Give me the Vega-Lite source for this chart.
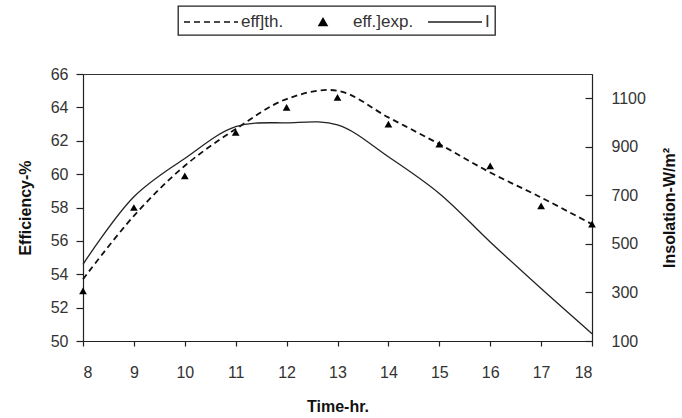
{
  "$schema": "https://vega.github.io/schema/vega-lite/v6.json",
  "width": 509,
  "height": 267,
  "autosize": "none",
  "padding": {"left": 83, "top": 74, "right": 90, "bottom": 77},
  "background": "white",
  "config": {
    "font": "Liberation Sans",
    "view": {"stroke": "#333", "strokeWidth": 1},
    "axis": {
      "grid": false,
      "labelFont": "Liberation Sans",
      "labelFontSize": 16,
      "labelColor": "#333",
      "labelOverlap": false,
      "domainColor": "#222",
      "tickColor": "#222",
      "domainWidth": 1.2,
      "tickWidth": 1.2,
      "titleFont": "Liberation Sans",
      "titleFontSize": 16,
      "titleFontWeight": "bold",
      "titleColor": "#111"
    }
  },
  "data": {
    "values": [
      {"t": 8, "th": 53.7, "exp": 53.0, "I": 416},
      {"t": 9, "th": 57.5, "exp": 58.0, "I": 694},
      {"t": 10, "th": 60.5, "exp": 59.9, "I": 852},
      {"t": 11, "th": 62.7, "exp": 62.5, "I": 983},
      {"t": 12, "th": 64.5, "exp": 64.0, "I": 999},
      {"t": 13, "th": 65.0, "exp": 64.6, "I": 990},
      {"t": 14, "th": 63.4, "exp": 63.0, "I": 859},
      {"t": 15, "th": 61.8, "exp": 61.8, "I": 708},
      {"t": 16, "th": 60.1, "exp": 60.5, "I": 508},
      {"t": 17, "th": 58.6, "exp": 58.1, "I": 316},
      {"t": 18, "th": 57.0, "exp": 57.0, "I": 130}
    ]
  },
  "encoding": {
    "x": {
      "field": "t",
      "type": "quantitative",
      "scale": {"domain": [8, 18], "nice": false},
      "axis": {
        "title": "Time-hr.",
        "values": [8, 9, 10, 11, 12, 13, 14, 15, 16, 17, 18],
        "labelOverlap": false,
        "tickSize": 5,
        "labelPadding": 18,
        "titlePadding": 18
      }
    }
  },
  "layer": [
    {
      "encoding": {
        "y": {
          "type": "quantitative",
          "scale": {"domain": [50, 66], "nice": false, "zero": false},
          "axis": {
            "title": "Efficiency-%",
            "values": [50, 52, 54, 56, 58, 60, 62, 64, 66],
            "labelOverlap": false,
            "tickSize": 7,
            "labelPadding": 8,
            "titlePadding": 17
          }
        }
      },
      "layer": [
        {
          "mark": {"type": "line", "interpolate": "catmull-rom", "strokeDash": [6, 4], "strokeWidth": 1.8},
          "encoding": {
            "y": {
              "field": "th",
              "type": "quantitative",
              "scale": {"domain": [50, 66], "nice": false, "zero": false},
              "axis": {
                "title": "Efficiency-%",
                "values": [50, 52, 54, 56, 58, 60, 62, 64, 66],
                "labelOverlap": false,
                "tickSize": 7,
                "labelPadding": 8,
                "titlePadding": 17
              }
            },
            "color": {
              "datum": "eff]th.",
              "type": "nominal",
              "scale": {"domain": ["eff]th.", "eff.]exp.", "I"], "range": ["#111", "#000", "#222"]},
              "legend": {
                "title": null,
                "orient": "none",
                "legendX": 95,
                "legendY": -68,
                "direction": "horizontal",
                "strokeColor": "#222",
                "padding": 5,
                "symbolSize": 400,
                "symbolOffset": 0,
                "symbolStrokeWidth": 1.5,
                "labelFontSize": 17,
                "labelColor": "#333",
                "labelOffset": 36,
                "columnPadding": 11,
                "encode": {
                  "legend": {"update": {"strokeWidth": {"value": 1.3}}},
                  "symbols": {
                    "update": {
                      "shape": {"signal": "datum.value === 'eff.]exp.' ? 'M1.3,0.35L1.7,-0.35L2.1,0.35Z' : 'M-1,0H4.4'"},
                      "size": {"value": 400},
                      "strokeDash": {"signal": "datum.value === 'eff]th.' ? [6, 4] : [1, 0]"},
                      "fill": {"value": "#000"},
                      "stroke": {"value": "#111"},
                      "strokeWidth": {"value": 1.5},
                      "opacity": {"value": 1}
                    }
                  }
                }
              }
            }
          }
        },
        {
          "mark": {"type": "point", "shape": "triangle-up", "filled": true, "size": 60, "opacity": 1},
          "encoding": {
            "y": {
              "field": "exp",
              "type": "quantitative",
              "scale": {"domain": [50, 66], "nice": false, "zero": false},
              "axis": {
                "title": "Efficiency-%",
                "values": [50, 52, 54, 56, 58, 60, 62, 64, 66],
                "labelOverlap": false,
                "tickSize": 7,
                "labelPadding": 8,
                "titlePadding": 17
              }
            },
            "color": {"datum": "eff.]exp.", "type": "nominal"}
          }
        }
      ]
    },
    {
      "mark": {"type": "line", "interpolate": "catmull-rom", "strokeWidth": 1.3},
      "encoding": {
        "y": {
          "field": "I",
          "type": "quantitative",
          "scale": {"domain": [100, 1200], "nice": false, "zero": false},
          "axis": {
            "orient": "right",
            "title": "Insolation-W/m²",
            "format": "d",
            "values": [100, 300, 500, 700, 900, 1100],
            "labelOverlap": false,
            "tickSize": -7,
            "labelPadding": 26,
            "titleAngle": 270,
            "titleBaseline": "top",
            "titlePadding": 16
          }
        },
        "color": {"datum": "I", "type": "nominal"}
      }
    }
  ],
  "resolve": {"scale": {"y": "independent"}}
}
